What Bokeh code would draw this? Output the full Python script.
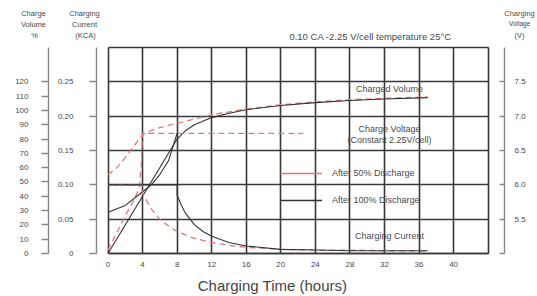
from bokeh.plotting import figure
from bokeh.models import Range1d, LinearAxis, FixedTicker, Label, Legend, LegendItem
from bokeh.embed import file_html
from bokeh.resources import INLINE

# ---------------- data ----------------
time_ticks = [0, 4, 8, 12, 16, 20, 24, 28, 32, 36, 40]
time_edge = 44
current_ticks = [0, 0.05, 0.10, 0.15, 0.20, 0.25]
current_tick_labels = ["0", "0.05", "0.10", "0.15", "0.20", "0.25"]
current_top = 0.30
volume_ticks = [0, 10, 20, 30, 40, 50, 60, 70, 80, 90, 100, 110, 120]
voltage_ticks = [5.0, 5.5, 6.0, 6.5, 7.0, 7.5]
voltage_tick_labels = ["", "5.5", "6.0", "6.5", "7.0", "7.5"]

# charged volume (%)
vol50_t = [0, 1, 2, 3, 4, 5, 6, 8, 10, 12, 16, 20, 24, 28, 32, 37]
vol50 = [55, 60, 67, 75, 83, 86, 88, 91, 94, 97, 101, 104, 106, 107.5, 108.5, 109.5]
vol100_t = [0, 8, 9, 10, 12, 14, 16, 20, 24, 28, 32, 37]
vol100 = [0, 80, 86, 90, 95, 98, 100.5, 103.5, 105.5, 107, 108, 109]

# charge voltage (V)
volt50_t = [0, 1, 2, 3, 3.6, 3.85, 4, 22.6]
volt50 = [5.05, 5.3, 5.55, 5.78, 5.95, 6.3, 6.75, 6.75]
volt100_t = [0, 2, 4, 5, 6, 7, 7.5, 8]
volt100 = [5.6, 5.7, 5.9, 6.0, 6.15, 6.35, 6.55, 6.75]

# charging current (CA)
cur50_t = [0, 4, 4, 5, 6, 7, 8, 10, 12, 14, 16, 20, 24, 28, 32, 37]
cur50 = [0.10, 0.10, 0.087, 0.065, 0.05, 0.04, 0.032, 0.022, 0.016, 0.012, 0.009, 0.006, 0.005, 0.005, 0.004, 0.004]
cur100_t = [0, 8, 8, 8.5, 9, 10, 11, 12, 14, 16, 20, 24, 28, 32, 37]
cur100 = [0.10, 0.10, 0.085, 0.07, 0.058, 0.042, 0.032, 0.025, 0.016, 0.011, 0.006, 0.005, 0.004, 0.004, 0.004]

# ---------------- layout / styles ----------------
RED = "#e07a7a"
BLK = "#333333"
GRID = "#383838"
AXIS = "#8a8a8a"
TXT = "#4a4a4a"
FONT = "Liberation Sans"

OX, OY = 0, 0            # page position of the canvas
W, H = 536, 295
X0, SX = 107.5, 8.64     # page px of t=0, px per hour
Y0, SY = 253.0, 686.6    # page px of current 0, px per CA


def tx(px):
    return (px - X0) / SX


def cy(py):
    return (Y0 - py) / SY


x_lo, x_hi = tx(OX), tx(OX + W)
y_lo, y_hi = cy(OY + H), cy(OY)

p = figure(width=W, height=H, output_backend="svg", toolbar_location=None, title=None,
           x_range=Range1d(x_lo, x_hi), y_range=Range1d(y_lo, y_hi),
           min_border=0, min_border_left=0, min_border_right=0,
           min_border_top=0, min_border_bottom=0)
p.outline_line_color = None
p.background_fill_color = "white"
p.border_fill_color = "white"

p.extra_y_ranges = {"volume": Range1d(y_lo * 480, y_hi * 480),
                    "voltage": Range1d(5.0 + y_lo * 10, 5.0 + y_hi * 10)}

# grids
p.xgrid.ticker = FixedTicker(ticks=time_ticks + [time_edge])
p.ygrid.ticker = FixedTicker(ticks=current_ticks + [current_top])
p.xgrid.cross_bounds = (0, current_top)
p.ygrid.cross_bounds = (0, time_edge)
for g in (p.xgrid, p.ygrid):
    g.grid_line_color = GRID
    g.grid_line_width = 1.6


def style_axis(a, tick_in, tick_out, standoff, line_color=AXIS, size="8px"):
    a.axis_line_color = line_color
    a.axis_line_width = 1.4
    a.major_tick_line_color = line_color
    a.major_tick_line_width = 1.4
    a.major_tick_in = tick_in
    a.major_tick_out = tick_out
    a.minor_tick_line_color = None
    a.major_label_standoff = standoff
    a.major_label_text_font_size = size
    a.major_label_text_color = TXT
    a.major_label_text_font = FONT


# x axis
xa = p.xaxis[0]
xa.ticker = FixedTicker(ticks=time_ticks)
xa.fixed_location = 0
xa.bounds = (0, time_edge)
style_axis(xa, 0, 0, 8, GRID)
xa.axis_line_width = 1.6

# current axis
ya = p.yaxis[0]
ya.ticker = FixedTicker(ticks=current_ticks)
ya.major_label_overrides = dict(zip(current_ticks, current_tick_labels))
ya.fixed_location = tx(96)
ya.bounds = (0, current_top)
style_axis(ya, 0, 7, 16)

# volume axis
va = LinearAxis(y_range_name="volume", ticker=FixedTicker(ticks=volume_ticks))
va.fixed_location = tx(48)
va.bounds = (0, current_top * 480)
style_axis(va, 0, 7, 13)
p.add_layout(va, "left")

# voltage axis
ra = LinearAxis(y_range_name="voltage", ticker=FixedTicker(ticks=voltage_ticks))
ra.major_label_overrides = dict(zip(voltage_ticks, voltage_tick_labels))
ra.fixed_location = tx(504)
ra.bounds = (5.0, 5.0 + current_top * 10)
style_axis(ra, 5, 0, 10)
p.add_layout(ra, "right")

# curves
p.line(vol50_t, vol50, y_range_name="volume", line_color=RED, line_width=1.3, line_dash="6 4")
p.line(vol100_t, vol100, y_range_name="volume", line_color=BLK, line_width=1.1)
p.line(volt50_t, volt50, y_range_name="voltage", line_color=RED, line_width=1.3, line_dash="6 4")
p.line(volt100_t, volt100, y_range_name="voltage", line_color=BLK, line_width=1.1)
p.line(cur50_t, cur50, line_color=RED, line_width=1.3, line_dash="6 4")
p.line(cur100_t, cur100, line_color=BLK, line_width=1.1)

# legend (renderers with no visible points, used only for their swatches)
nan = float("nan")
r50 = p.line([nan], [nan], line_color=RED, line_width=1.3)
r100 = p.line([nan], [nan], line_color=BLK, line_width=1.3)
legend = Legend(items=[LegendItem(label="After 50% Discharge", renderers=[r50]),
                       LegendItem(label="After 100% Discharge", renderers=[r100])],
                location=(280 - OX, OY + H - 207), background_fill_alpha=0, border_line_color=None,
                padding=0, margin=0, spacing=13, glyph_width=42, glyph_height=14,
                label_height=14, label_standoff=10, label_text_font_size="9px",
                label_text_color=TXT, label_text_font=FONT)
p.add_layout(legend)


def add_text(px, py, text, size="9px", color=TXT):
    p.add_layout(Label(x=tx(px), y=cy(py), text=text, text_font_size=size, text_align="center",
                       text_baseline="middle", text_color=color, text_font=FONT))


# in-chart annotations
add_text(389, 88, "Charged Volume")
add_text(389, 128, "Charge Voltage")
add_text(389, 139, "(Constant 2.25V/cell)")
add_text(389, 235, "Charging Current")

# headings
add_text(370, 36, "0.10 CA -2.25 V/cell temperature 25\u00b0C", size="9.5px")
add_text(33, 13, "Charge", size="7.5px")
add_text(33, 24, "Volume", size="7.5px")
add_text(34, 35, "%", size="7.5px")
add_text(84, 13, "Charging", size="7.5px")
add_text(84, 24, "Current", size="7.5px")
add_text(85, 35, "(KCA)", size="7.5px")
add_text(519, 13, "Charging", size="7.5px")
add_text(519, 23, "Voltage", size="6.5px")
add_text(519, 35, "(V)", size="7.5px")
add_text(272, 285, "Charging Time (hours)", size="15px", color="#444444")

open("out.html", "w").write(file_html(p, INLINE))
